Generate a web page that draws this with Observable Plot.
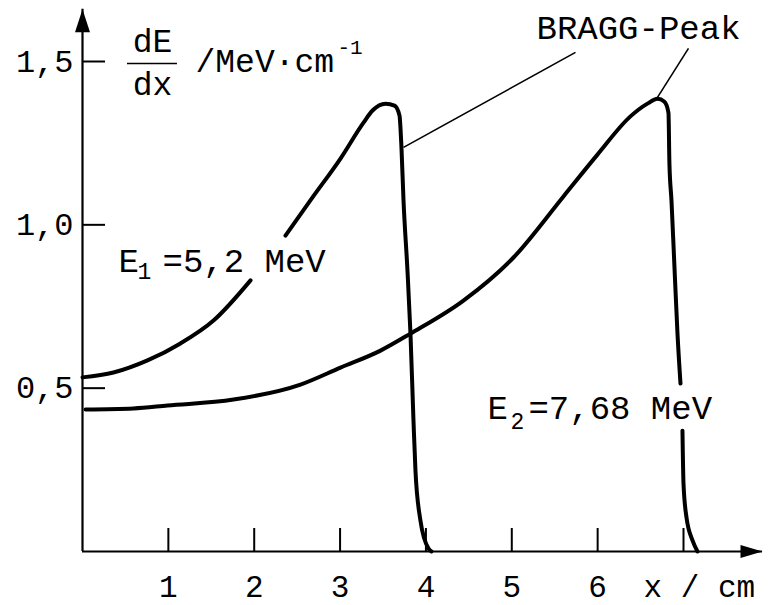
<!DOCTYPE html>
<html>
<head>
<meta charset="utf-8">
<script src="https://cdn.jsdelivr.net/npm/d3@7"></script>
<script src="https://cdn.jsdelivr.net/npm/@observablehq/plot@0.6"></script>
<style>
  html, body { margin: 0; padding: 0; background: white; }
  #chart { width: 772px; height: 605px; }
</style>
</head>
<body>
<div id="chart"></div>
<script>
// ---- data ----
const xTicks = [1, 2, 3, 4, 5, 6, 7];
const xTickLabels = ["1", "2", "3", "4", "5", "6", ""];
const yTicks = [0.5, 1.0, 1.5];
const yTickLabels = ["0,5", "1,0", "1,5"];

// E1 = 5,2 MeV  (null = gap where the label sits)
const e1X = [0, 0.361, 0.757, 1.141, 1.526, 1.957, 2.16, 2.364, 2.679, 3.005, 3.273, 3.378, 3.529, 3.634, 3.692, 3.715, 3.739, 3.785, 3.820, 3.855, 3.878, 3.936, 4.030, 4.065];
const e1Y = [0.533, 0.548, 0.585, 0.637, 0.707, 0.830, null, 0.967, 1.084, 1.203, 1.313, 1.350, 1.371, 1.365, 1.335, 1.237, 1.074, 0.860, 0.667, 0.401, 0.248, 0.095, 0.009, 0];

// E2 = 7,68 MeV  (null = gap where the label sits)
const e2X = [0.035, 0.594, 0.990, 1.759, 2.539, 3.005, 3.471, 3.820, 4.437, 5.020, 5.602, 5.998, 6.382, 6.580, 6.697, 6.778, 6.825, 6.836, 6.860, 6.895, 6.930, 6.965, 6.976, 6.988, 7.000, 7.035, 7.105, 7.163];
const e2Y = [0.435, 0.438, 0.447, 0.465, 0.511, 0.563, 0.615, 0.667, 0.768, 0.900, 1.087, 1.215, 1.332, 1.371, 1.386, 1.377, 1.343, 1.188, 1.074, 0.869, 0.667, 0.514, null, 0.370, 0.208, 0.104, 0.034, 0];

// annotation anchors (data coordinates)
const leaderX1 = [3.739, 6.697];
const leaderY1 = [1.237, 1.390];
const leaderX2 = [5.742, 7.058];
const leaderY2 = [1.528, 1.540];
const xAxisEnd = 7.92;
const yAxisEnd = 1.66;

// ---- layout ----
const W = 772, H = 605;
const mL = 82, mR = 89, mT = 61, mB = 54;
const frameW = W - mL - mR, frameH = H - mT - mB;
const font = "'Liberation Mono', 'Courier New', monospace";

const e1 = e1X.map((x, i) => ({x, y: e1Y[i]}));
const e2 = e2X.map((x, i) => ({x, y: e2Y[i]}));
const leaders = leaderX1.map((x, i) => ({x1: x, y1: leaderY1[i], x2: leaderX2[i], y2: leaderY2[i]}));

const arrowUp = {draw(ctx) { ctx.moveTo(0, 0); ctx.lineTo(-7.5, 23); ctx.lineTo(7.5, 23); ctx.closePath(); }};
const arrowRight = {draw(ctx) { ctx.moveTo(0, 0); ctx.lineTo(-22, -6.5); ctx.lineTo(-22, 6.5); ctx.closePath(); }};

const txt = {fill: "black"};

const chart = Plot.plot({
  width: W, height: H,
  marginLeft: mL, marginRight: mR, marginTop: mT, marginBottom: mB,
  x: {domain: [0, 7], axis: null},
  y: {domain: [0, 1.5], axis: null},
  style: {background: "white", fontFamily: font, color: "black", overflow: "visible"},
  marks: [
    // curves
    Plot.line(e1, {x: "x", y: "y", stroke: "black", strokeWidth: 4, curve: "monotone-x"}),
    Plot.line(e2, {x: "x", y: "y", stroke: "black", strokeWidth: 4, curve: "monotone-x"}),
    // leader lines
    Plot.link(leaders, {x1: "x1", y1: "y1", x2: "x2", y2: "y2", stroke: "black", strokeWidth: 1.6}),
    // curve labels
    Plot.text(["E"], {x: 0.419, y: 0.889, text: d => d, textAnchor: "start", fontSize: 34, ...txt}),
    Plot.text(["1"], {x: 0.641, y: 0.857, text: d => d, textAnchor: "start", fontSize: 23, ...txt}),
    Plot.text(["=5,2 MeV"], {x: 0.932, y: 0.889, text: d => d, textAnchor: "start", fontSize: 34, ...txt}),
    Plot.text(["E"], {x: 4.717, y: 0.438, text: d => d, textAnchor: "start", fontSize: 34, ...txt}),
    Plot.text(["2"], {x: 4.985, y: 0.398, text: d => d, textAnchor: "start", fontSize: 23, ...txt}),
    Plot.text(["=7,68 MeV"], {x: 5.194, y: 0.438, text: d => d, textAnchor: "start", fontSize: 34, ...txt}),
    Plot.text(["BRAGG-Peak"], {x: 6.476, y: 1.603, text: d => d, textAnchor: "middle", fontSize: 34, ...txt}),
    // y axis title dE/dx / MeV·cm^-1
    Plot.text(["dE"], {x: 0.815, y: 1.560, text: d => d, fontSize: 33, ...txt}),
    Plot.ruleY([1.494], {x1: 0.524, x2: 1.106, stroke: "black", strokeWidth: 1.6}),
    Plot.text(["dx"], {x: 0.815, y: 1.429, text: d => d, fontSize: 33, ...txt}),
    Plot.text(["/MeV·cm"], {x: 1.316, y: 1.500, text: d => d, textAnchor: "start", fontSize: 33, ...txt}),
    Plot.text(["-1"], {x: 2.97, y: 1.545, text: d => d, textAnchor: "start", fontSize: 21, ...txt}),
    // axes
    Plot.ruleY([0], {x1: 0, x2: xAxisEnd, stroke: "black", strokeWidth: 2.2}),
    Plot.ruleX([0], {y1: 0, y2: yAxisEnd, stroke: "black", strokeWidth: 2.2}),
    Plot.dot([0], {x: xAxisEnd, y: 0, symbol: arrowRight, r: 10, fill: "black", stroke: "none"}),
    Plot.dot([0], {x: 0, y: yAxisEnd, symbol: arrowUp, r: 10, fill: "black", stroke: "none"}),
    Plot.ruleX(xTicks, {x: d => d, insetTop: frameH - 23, stroke: "black", strokeWidth: 2}),
    Plot.ruleY(yTicks, {y: d => d, insetRight: frameW - 23, stroke: "black", strokeWidth: 2}),
    Plot.text(xTicks, {x: d => d, y: 0, dy: 36, text: (d, i) => xTickLabels[i], fontSize: 31, ...txt}),
    Plot.text(yTicks, {x: 0, y: d => d, dx: -9, text: (d, i) => yTickLabels[i], textAnchor: "end", fontSize: 32, ...txt}),
    Plot.text(["x / cm"], {x: 6.534, y: 0, dy: 36, text: d => d, textAnchor: "start", fontSize: 31, ...txt})
  ]
});
document.getElementById("chart").appendChild(chart);
</script>
</body>
</html>
